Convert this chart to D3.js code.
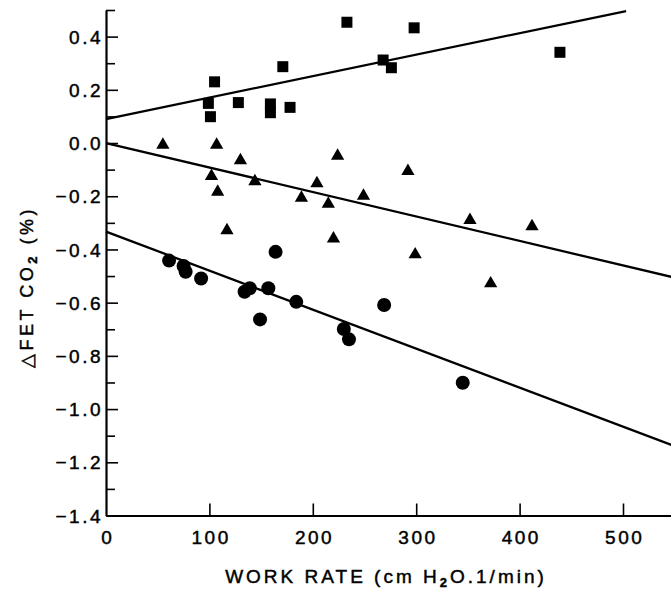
<!DOCTYPE html>
<html>
<head>
<meta charset="utf-8">
<script src="https://cdn.jsdelivr.net/npm/d3@7"></script>
<style>
  html, body { margin: 0; padding: 0; background: #fff; }
  svg { display: block; }
  text { font-family: "Liberation Sans", Arial, Helvetica, sans-serif; fill: #000; stroke: #000; stroke-width: 0.45px; }
</style>
</head>
<body>
<svg id="chart" width="671" height="591"></svg>
<script>
// ---- data (work rate, delta FET CO2 %) ----
const squareX = [99, 101, 105, 128, 159, 159, 171, 178, 233, 268, 276, 298, 439];
const squareY = [0.149, 0.099, 0.230, 0.152, 0.147, 0.114, 0.287, 0.134, 0.454, 0.312, 0.283, 0.433, 0.341];

const triangleX = [55, 107, 102, 108, 130, 144, 204, 224, 249, 189, 117, 215, 220, 292, 299, 352, 412, 372];
const triangleY = [0.0, 0.0, -0.117, -0.177, -0.058, -0.137, -0.145, -0.041, -0.192, -0.199, -0.321, -0.222, -0.352, -0.099, -0.412, -0.283, -0.306, -0.521];

const circleX = [61, 75, 77, 92, 134, 139, 149, 157, 164, 184, 230, 235, 269, 345];
const circleY = [-0.442, -0.462, -0.484, -0.509, -0.559, -0.546, -0.663, -0.546, -0.409, -0.597, -0.699, -0.738, -0.609, -0.901];

// regression lines: [x0, y0, x1, y1]
const squareFit = [0, 0.09, 503, 0.496];
const triangleFit = [0, 0.0, 550, -0.506];
const circleFit = [0, -0.333, 550, -1.139];

const xTicks = [0, 100, 200, 300, 400, 500];
const yMajorTicks = [0.4, 0.2, 0.0, -0.2, -0.4, -0.6, -0.8, -1.0, -1.2, -1.4];
const yMinorTicks = [0.5, 0.3, 0.1, -0.1, -0.3, -0.5, -0.7, -0.9, -1.1, -1.3];

const xTitle = "WORK RATE (cm H";
const yTitle = "\u25B3FET CO";

// ---- layout ----
const svg = d3.select("#chart");
const x = d3.scaleLinear().domain([0, 550]).range([106, 674.7]);
const y = d3.scaleLinear().domain([0.5, -1.4]).range([10, 515.5]);
const x0 = x(0), yBase = y(-1.4);

const fmt = v => (v < 0 ? "\u2212" : "") + Math.abs(v).toFixed(1);

// y axis minor ticks
svg.append("g").attr("transform", `translate(${x0},0)`)
  .call(d3.axisLeft(y).tickValues(yMinorTicks).tickSizeInner(-9).tickSizeOuter(0).tickFormat(""))
  .call(g => g.select(".domain").remove())
  .call(g => g.selectAll("line").attr("stroke", "#000").attr("stroke-width", 1.6));

// y axis major ticks + labels
svg.append("g").attr("transform", `translate(${x0},0)`)
  .call(d3.axisLeft(y).tickValues(yMajorTicks).tickSizeInner(-12).tickSizeOuter(0).tickPadding(4).tickFormat(fmt))
  .call(g => g.select(".domain").attr("stroke", "#000").attr("stroke-width", 2.2))
  .call(g => g.selectAll("line").attr("stroke", "#000").attr("stroke-width", 1.6))
  .call(g => g.selectAll("text")
      .attr("font-size", 19).attr("letter-spacing", "2.5px")
      .attr("font-family", "'Liberation Sans', Arial, sans-serif")
      .attr("fill", "#000").attr("dy", "0.35em").attr("x", -3));

// x axis
svg.append("g").attr("transform", `translate(0,${yBase})`)
  .call(d3.axisBottom(x).tickValues(xTicks).tickSizeInner(-12).tickSizeOuter(0).tickFormat(d3.format("d")))
  .call(g => g.select(".domain").attr("stroke", "#000").attr("stroke-width", 2.2))
  .call(g => g.selectAll(".tick line").attr("stroke", "#000").attr("stroke-width", 1.6)
      .attr("display", d => d === 0 ? "none" : null))
  .call(g => g.selectAll("text")
      .attr("font-size", 19).attr("letter-spacing", "2.5px")
      .attr("font-family", "'Liberation Sans', Arial, sans-serif")
      .attr("fill", "#000").attr("y", 28).attr("dy", 0).attr("dx", 1.2));

// regression lines
const fitLine = d3.line().x(d => x(d[0])).y(d => y(d[1]));
[squareFit, triangleFit, circleFit].forEach(f => {
  svg.append("path")
    .attr("d", fitLine([[f[0], f[1]], [f[2], f[3]]]))
    .attr("fill", "none").attr("stroke", "#000").attr("stroke-width", 2.3);
});

// markers
const sq = d3.symbol().type(d3.symbolSquare).size(121);
svg.append("g").selectAll("path").data(squareX.map((v, i) => [v, squareY[i]]))
  .join("path").attr("d", sq).attr("fill", "#000")
  .attr("transform", d => `translate(${x(d[0])},${y(d[1])})`);

const tri = d3.symbol().type(d3.symbolTriangle).size(76);
svg.append("g").selectAll("path").data(triangleX.map((v, i) => [v, triangleY[i]]))
  .join("path").attr("d", tri).attr("fill", "#000")
  .attr("transform", d => `translate(${x(d[0])},${y(d[1]) + 1.9})`);

svg.append("g").selectAll("circle").data(circleX.map((v, i) => [v, circleY[i]]))
  .join("circle").attr("r", 7).attr("fill", "#000")
  .attr("cx", d => x(d[0])).attr("cy", d => y(d[1]));

// x title
const xt = svg.append("text")
  .attr("x", 386).attr("y", 583).attr("text-anchor", "middle")
  .attr("font-size", 19).attr("letter-spacing", "3px");
xt.append("tspan").text(xTitle);
xt.append("tspan").attr("font-size", 13).attr("dy", 4).attr("font-weight", "bold").text("2");
xt.append("tspan").attr("dy", -4).text("O.1/min)");

// y title
const yt = svg.append("text")
  .attr("transform", "translate(33,287) rotate(-90)")
  .attr("text-anchor", "middle")
  .attr("font-size", 18).attr("letter-spacing", "3.5px");
yt.append("tspan").text(yTitle);
yt.append("tspan").attr("font-size", 13).attr("dy", 4).attr("font-weight", "bold").text("2");
yt.append("tspan").attr("dy", -4).text(" (%)");
</script>
</body>
</html>
